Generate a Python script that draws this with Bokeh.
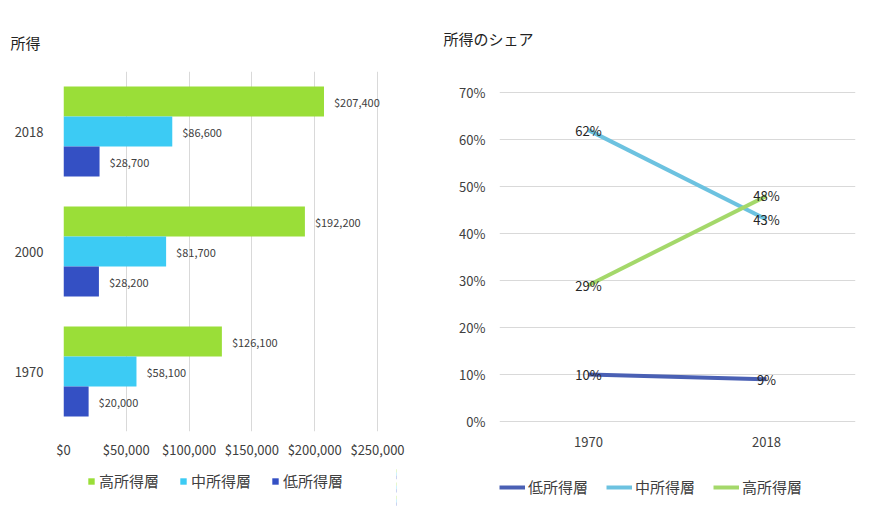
from bokeh.plotting import figure
from bokeh.models import (ColumnDataSource, FactorRange, Range1d,
                          Legend, LegendItem, NumeralTickFormatter, FixedTicker)
from bokeh.transform import dodge
from bokeh.core.properties import value
from bokeh.layouts import row, column
from bokeh.embed import file_html
from bokeh.resources import INLINE

# ---------------- data ----------------
years = ["1970", "2000", "2018"]
high_income = [126100, 192200, 207400]
mid_income = [58100, 81700, 86600]
low_income = [20000, 28200, 28700]
income_ticks = [0, 50000, 100000, 150000, 200000, 250000]

share_years = ["1970", "2018"]
share_low = [0.10, 0.09]
share_mid = [0.62, 0.43]
share_high = [0.29, 0.48]
share_ticks = [0, 0.1, 0.2, 0.3, 0.4, 0.5, 0.6, 0.7]

FONT = "Noto Sans CJK JP"
GREEN, CYAN, BLUE = "#9ade38", "#3ccbf4", "#3450c4"
L_LOW, L_MID, L_HIGH = "#4a60b4", "#6cc2e0", "#a4d86a"
TXT = "#404040"

# ---------------- left: income bars ----------------
src = ColumnDataSource(dict(
    year=years, high=high_income, mid=mid_income, low=low_income,
    high_lbl=["${:,}".format(v) for v in high_income],
    mid_lbl=["${:,}".format(v) for v in mid_income],
    low_lbl=["${:,}".format(v) for v in low_income],
))

p1 = figure(frame_width=333, frame_height=360, y_range=FactorRange(*years),
            x_range=Range1d(0, 265127), title="所得",
            output_backend="svg", toolbar_location=None,
            min_border_left=63, min_border_right=44, min_border_top=71, min_border_bottom=36)
p1.title.align = "left"
p1.title.offset = -53
p1.title.standoff = 38
p1.title.text_font = FONT
p1.title.text_font_size = "15px"
p1.title.text_font_style = "normal"
p1.title.text_color = "#222222"
p1.outline_line_color = None
p1.ygrid.grid_line_color = None
p1.xgrid.grid_line_color = "#d9d9d9"
p1.xaxis.ticker = FixedTicker(ticks=income_ticks)
p1.xaxis.formatter = NumeralTickFormatter(format="$0,0")
for ax in (p1.xaxis, p1.yaxis):
    ax.axis_line_color = None
    ax.major_tick_line_color = None
    ax.minor_tick_line_color = None
    ax.major_tick_out = 0
    ax.major_label_text_font = FONT
    ax.major_label_text_font_size = "13px"
    ax.major_label_text_color = TXT
p1.xaxis.major_label_standoff = 8
p1.yaxis.major_label_standoff = 20

bar_specs = (("high", 0.25, GREEN), ("mid", 0.0, CYAN), ("low", -0.25, BLUE))
for col, off, c in bar_specs:
    p1.hbar(y=dodge("year", off, range=p1.y_range), right=col, left=0, height=0.25,
            source=src, fill_color=c, line_color=None)
    p1.text(x=col, y=dodge("year", off, range=p1.y_range), text=col + "_lbl", source=src,
            x_offset=10, text_baseline="middle", text_align="left",
            text_font=value(FONT), text_font_size="11px", text_color=TXT)

# legend strip under the bar chart (same data, bars kept out of view)
l1 = figure(width=440, height=40, y_range=FactorRange(*years), x_range=Range1d(-2, -1),
            output_backend="svg", toolbar_location=None,
            min_border_left=0, min_border_right=0, min_border_top=0, min_border_bottom=0)
l1.axis.visible = False
l1.grid.visible = False
l1.outline_line_color = None
leg_r1 = {}
for col, off, c in bar_specs:
    leg_r1[col] = l1.hbar(y=dodge("year", off, range=l1.y_range), right=col, left=0,
                          height=0.25, source=src, fill_color=c, line_color=None)
l1.add_layout(Legend(items=[LegendItem(label="高所得層", renderers=[leg_r1["high"]]),
                            LegendItem(label="中所得層", renderers=[leg_r1["mid"]]),
                            LegendItem(label="低所得層", renderers=[leg_r1["low"]])],
                     orientation="horizontal", location=(24, 16), nrows=1,
                     glyph_width=8, glyph_height=8, label_standoff=4, spacing=20,
                     label_text_font=FONT, label_text_font_size="15px", label_text_color=TXT,
                     border_line_color=None, background_fill_alpha=0, padding=0, margin=0),
              "center")

# ---------------- right: share lines ----------------
p2 = figure(frame_width=356, frame_height=360, x_range=FactorRange(*share_years),
            y_range=Range1d(-0.0213, 0.7447), title="所得のシェア",
            output_backend="svg", toolbar_location=None,
            min_border_left=59, min_border_right=20, min_border_top=71, min_border_bottom=36)
p2.title.align = "left"
p2.title.offset = -56
p2.title.standoff = 46
p2.title.text_font = FONT
p2.title.text_font_size = "15px"
p2.title.text_font_style = "normal"
p2.title.text_color = "#222222"
p2.outline_line_color = None
p2.xgrid.grid_line_color = None
p2.ygrid.grid_line_color = "#d9d9d9"
p2.yaxis.ticker = FixedTicker(ticks=share_ticks)
p2.yaxis.formatter = NumeralTickFormatter(format="0%")
for ax in (p2.xaxis, p2.yaxis):
    ax.axis_line_color = None
    ax.major_tick_line_color = None
    ax.minor_tick_line_color = None
    ax.major_tick_out = 0
    ax.major_label_text_font = FONT
    ax.major_label_text_font_size = "13px"
    ax.major_label_text_color = TXT
p2.xaxis.major_label_standoff = 5
p2.yaxis.major_label_standoff = 14

src2 = ColumnDataSource(dict(
    year=share_years, low=share_low, mid=share_mid, high=share_high,
    low_lbl=["{:.0%}".format(v) for v in share_low],
    mid_lbl=["{:.0%}".format(v) for v in share_mid],
    high_lbl=["{:.0%}".format(v) for v in share_high],
))
line_specs = (("low", L_LOW), ("mid", L_MID), ("high", L_HIGH))
for col, c in line_specs:
    p2.line(x="year", y=col, source=src2, line_color=c, line_width=4)
for col, c in line_specs:
    p2.text(x="year", y=col, text=col + "_lbl", source=src2, text_align="center",
            text_baseline="middle", text_font=value(FONT), text_font_size="13px",
            text_color="#262626")

# legend strip under the line chart (same data, lines kept out of view)
l2 = figure(width=435, height=40, x_range=FactorRange(*share_years), y_range=Range1d(5, 6),
            output_backend="svg", toolbar_location=None,
            min_border_left=0, min_border_right=0, min_border_top=0, min_border_bottom=0)
l2.axis.visible = False
l2.grid.visible = False
l2.outline_line_color = None
leg_r2 = {}
for col, c in line_specs:
    leg_r2[col] = l2.line(x="year", y=col, source=src2, line_color=c, line_width=4)
l2.add_layout(Legend(items=[LegendItem(label="低所得層", renderers=[leg_r2["low"]]),
                            LegendItem(label="中所得層", renderers=[leg_r2["mid"]]),
                            LegendItem(label="高所得層", renderers=[leg_r2["high"]])],
                     orientation="horizontal", location=(0, 10), nrows=1,
                     glyph_width=26, glyph_height=10, label_standoff=3, spacing=18,
                     label_text_font=FONT, label_text_font_size="15px", label_text_color=TXT,
                     border_line_color=None, background_fill_alpha=0, padding=0, margin=0),
              "center")

layout = row(column(p1, l1), column(p2, l2))
open("out.html", "w").write(file_html(layout, INLINE))
